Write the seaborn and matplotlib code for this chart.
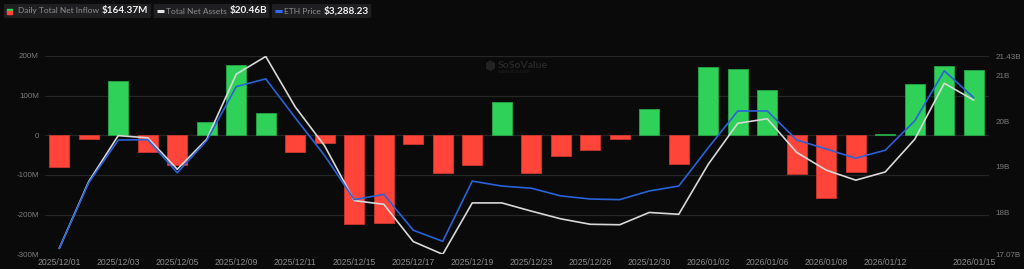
import numpy as np
import pandas as pd
import matplotlib
matplotlib.use("Agg")
import matplotlib.pyplot as plt
from matplotlib.patches import FancyBboxPatch, Rectangle
from matplotlib.lines import Line2D
import seaborn as sns

# ---------------- data ----------------
dates = ["2025/12/01", "2025/12/02", "2025/12/03", "2025/12/04", "2025/12/05",
         "2025/12/08", "2025/12/09", "2025/12/10", "2025/12/11", "2025/12/12",
         "2025/12/15", "2025/12/16", "2025/12/17", "2025/12/18", "2025/12/19",
         "2025/12/22", "2025/12/23", "2025/12/24", "2025/12/26", "2025/12/29",
         "2025/12/30", "2025/12/31", "2026/01/02", "2026/01/05", "2026/01/06",
         "2026/01/07", "2026/01/08", "2026/01/09", "2026/01/12", "2026/01/13",
         "2026/01/14", "2026/01/15"]
net_inflow_m = [-78.7, -9.2, 138.0, -41.0, -75.0, 34.3, 176.6, 56.9, -41.8, -19.2,
                -222.6, -222.0, -21.8, -95.4, -75.3, 83.7, -94.6, -52.7, -37.7, -9.2,
                67.0, -72.0, 172.4, 166.5, 113.8, -97.9, -158.2, -93.7, 4.2, 128.9,
                174.0, 164.37]
net_assets_b = [17.20, 18.67, 19.68, 19.63, 18.94, 19.60, 21.03, 21.42, 20.31, 19.45,
                18.25, 18.17, 17.35, 17.07, 18.20, 18.20, 18.02, 17.85, 17.73, 17.72,
                17.99, 17.95, 19.05, 19.95, 20.05, 19.31, 18.92, 18.70, 18.88, 19.60,
                20.83, 20.46]
eth_price = [2800, 3013, 3151, 3152, 3045, 3149, 3324, 3349, 3223, 3100,
             2958, 2975, 2859, 2823, 3018, 3002, 2995, 2970, 2960, 2958,
             2986, 3002, 3126, 3245, 3245, 3151, 3122, 3092, 3118, 3213,
             3375, 3288.23]
xtick_idx = [0, 2, 4, 6, 8, 10, 12, 14, 16, 18, 20, 22, 24, 26, 28, 31]
left_ticks = [-300, -200, -100, 0, 100, 200]
left_labels = ["-300M", "-200M", "-100M", "0", "100M", "200M"]
right_ticks = [17.07, 18, 19, 20, 21, 21.43]
right_labels = ["17.07B", "18B", "19B", "20B", "21B", "21.43B"]

# ---------------- style ----------------
BG = "#0a0a0a"
GREEN = "#30d158"
RED = "#ff453a"
WHITE_LINE = "#d8d8d8"
BLUE_LINE = "#2a62d9"
GRID = "#262626"
TICK = "#7c7c7c"

sns.set_theme(style="dark")
plt.rcParams["font.family"] = ["Lato", "DejaVu Sans"]

fig = plt.figure(figsize=(10.24, 2.69), dpi=100, facecolor=BG)
W, H = 1024, 269
x0, x1, ytop, ybot = 44.5, 988.5, 56.0, 254.3
ax = fig.add_axes([x0 / W, 1 - ybot / H, (x1 - x0) / W, (ybot - ytop) / H])
ax.set_facecolor(BG)

df = pd.DataFrame({"date": dates, "inflow": net_inflow_m})
df["sign"] = np.where(df["inflow"] >= 0, "in", "out")
sns.barplot(data=df, x="date", y="inflow", hue="sign",
            palette={"in": GREEN, "out": RED}, dodge=False, width=0.68,
            ax=ax, legend=False, saturation=1)
for p in ax.patches:
    fc = p.get_facecolor()
    p.set_edgecolor(tuple(c * 0.8 for c in fc[:3]) + (1,))
    p.set_linewidth(0.6)

ax.set_xlim(-0.5, len(dates) - 0.5)
ax.set_ylim(-300, 200)
ax.set_yticks(left_ticks)
ax.set_yticklabels(left_labels)
ax.set_xticks(xtick_idx)
ax.set_xticklabels([dates[i] for i in xtick_idx])
ax.set_xlabel("")
ax.set_ylabel("")
ax.grid(False)
for yv in left_ticks:
    ax.axhline(yv, color=GRID, lw=0.9, zorder=0)
for s in ax.spines.values():
    s.set_visible(False)
ax.tick_params(axis="y", length=0, pad=4, labelsize=5.8, labelcolor=TICK)
ax.tick_params(axis="x", length=0, pad=2.5, labelsize=6.2, labelcolor="#8c8c8c")
for lab in ax.get_yticklabels():
    lab.set_family(["Liberation Sans", "DejaVu Sans"])
for lab in ax.get_xticklabels():
    lab.set_family(["Liberation Sans", "DejaVu Sans"])

xs = np.arange(len(dates))

ax2 = ax.twinx()
sns.lineplot(x=xs, y=net_assets_b, ax=ax2, color=WHITE_LINE, lw=1.2, sort=False)
ax2.set_ylim(17.07, 21.43)
ax2.set_yticks(right_ticks)
ax2.set_yticklabels(right_labels)
ax2.tick_params(axis="y", length=0, pad=5, labelsize=5.8, labelcolor=TICK)
for lab in ax2.get_yticklabels():
    lab.set_family(["Liberation Sans", "DejaVu Sans"])
ax2.grid(False)
ax2.set_ylabel("")
for s in ax2.spines.values():
    s.set_visible(False)

ax3 = ax.twinx()
sns.lineplot(x=xs, y=eth_price, ax=ax3, color=BLUE_LINE, lw=1.2, sort=False)
ax3.set_ylim(2781, 3423)
ax3.set_yticks([])
ax3.set_ylabel("")
ax3.grid(False)
for s in ax3.spines.values():
    s.set_visible(False)
ax.set_xlim(-0.5, len(dates) - 0.5)

# ---------------- watermark ----------------
fig.text(490 / W, 1 - 66 / H, "\u2b22", color="#232323", fontsize=9,
         ha="center", va="center", family=["DejaVu Sans"])
fig.text(498 / W, 1 - 65 / H, "SoSoValue", color="#282828", fontsize=7.5,
         ha="left", va="center", fontweight="bold")
fig.text(498 / W, 1 - 71.5 / H, "sosovalue.com", color="#202020", fontsize=3.6,
         ha="left", va="center")

# ---------------- legend chips ----------------
fig.canvas.draw()
renderer = fig.canvas.get_renderer()
items = [("sq", "Daily Total Net Inflow", "$164.37M"),
         ("white", "Total Net Assets", "$20.46B"),
         ("blue", "ETH Price", "$3,288.23")]
cx = 4.0
ycen = 11.0
for kind, label, value in items:
    start = cx
    ix = cx + 3.0
    if kind == "sq":
        fig.patches.append(Rectangle((ix / W, 1 - 11.3 / H), 4.5 / W, 2.6 / H,
                                     transform=fig.transFigure, color=GREEN, zorder=5))
        fig.patches.append(Rectangle((ix / W, 1 - 13.9 / H), 4.5 / W, 2.6 / H,
                                     transform=fig.transFigure, color=RED, zorder=5))
        tx = cx + 14
    else:
        col = "#e6e6e6" if kind == "white" else "#2f6bff"
        fig.lines.append(Line2D([(ix) / W, (ix + 7) / W], [1 - ycen / H, 1 - ycen / H],
                                transform=fig.transFigure, color=col, lw=2.2,
                                solid_capstyle="butt", zorder=5))
        tx = cx + 12
    t1 = fig.text(tx / W, 1 - ycen / H, label, color="#8e8e8e", fontsize=6.0,
                  ha="left", va="center", zorder=6)
    bb = t1.get_window_extent(renderer)
    vx = bb.x1 + 3.0
    t2 = fig.text(vx / W, 1 - ycen / H, value, color="#f0f0f0", fontsize=7.2,
                  fontweight="bold", ha="left", va="center", zorder=6)
    bb2 = t2.get_window_extent(renderer)
    end = bb2.x1 + 2.5
    box = FancyBboxPatch((start / W, 1 - 18 / H), (end - start) / W, 14 / H,
                         boxstyle="round,pad=0,rounding_size=0.003",
                         transform=fig.transFigure, facecolor="#1f1f21",
                         edgecolor="none", zorder=4)
    fig.patches.append(box)
    cx = end + 2.5

fig.savefig("out.png", dpi=100, facecolor=BG)
